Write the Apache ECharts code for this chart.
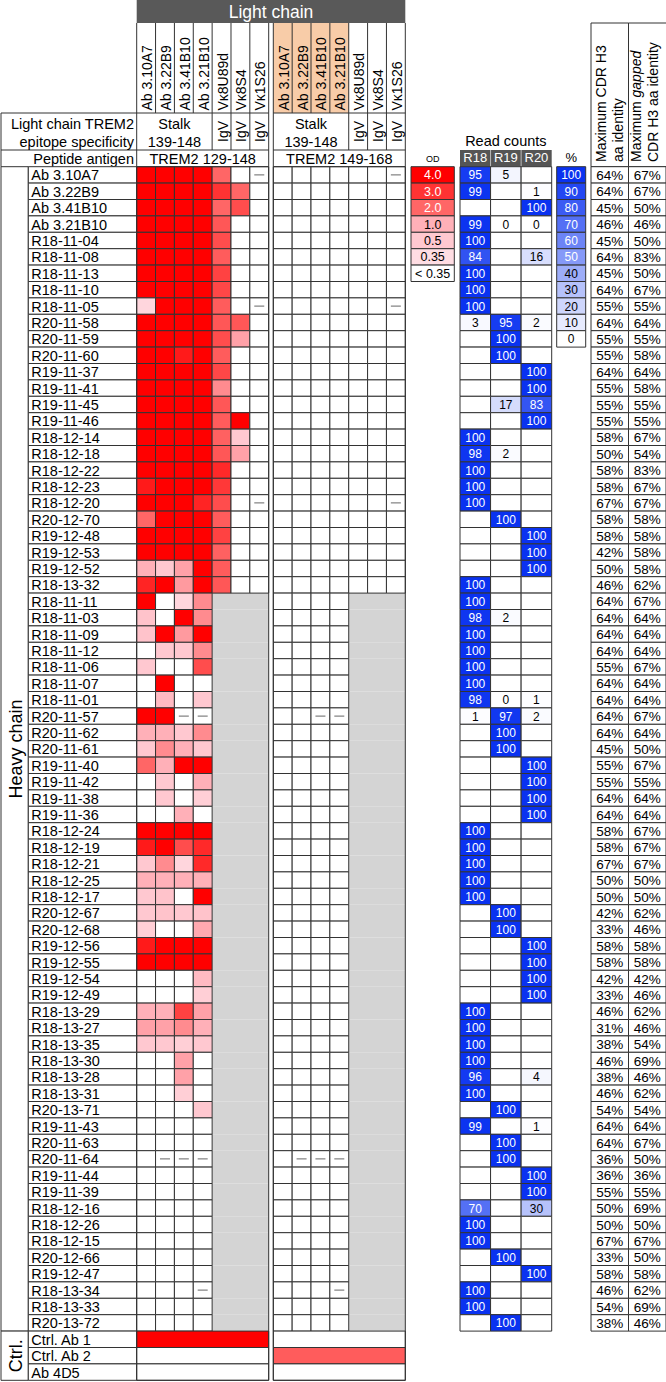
<!DOCTYPE html>
<html>
<head>
<meta charset="utf-8">
<script src="https://cdn.jsdelivr.net/npm/echarts@6/dist/echarts.min.js"></script>
<style>
  html, body { margin: 0; padding: 0; background: #fff; }
  #chart { width: 666px; height: 1382px; }
</style>
</head>
<body>
<div id="chart"></div>
<script>
// heavy chains (rows), then the three controls
const rowNames = [
  'Ab 3.10A7', 'Ab 3.22B9', 'Ab 3.41B10', 'Ab 3.21B10', 'R18-11-04', 'R18-11-08', 'R18-11-13', 'R18-11-10', 'R18-11-05', 'R20-11-58',
  'R20-11-59', 'R20-11-60', 'R19-11-37', 'R19-11-41', 'R19-11-45', 'R19-11-46', 'R18-12-14', 'R18-12-18', 'R18-12-22', 'R18-12-23',
  'R18-12-20', 'R20-12-70', 'R19-12-48', 'R19-12-53', 'R19-12-52', 'R18-13-32', 'R18-11-11', 'R18-11-03', 'R18-11-09', 'R18-11-12',
  'R18-11-06', 'R18-11-07', 'R18-11-01', 'R20-11-57', 'R20-11-62', 'R20-11-61', 'R19-11-40', 'R19-11-42', 'R19-11-38', 'R19-11-36',
  'R18-12-24', 'R18-12-19', 'R18-12-21', 'R18-12-25', 'R18-12-17', 'R20-12-67', 'R20-12-68', 'R19-12-56', 'R19-12-55', 'R19-12-54',
  'R19-12-49', 'R18-13-29', 'R18-13-27', 'R18-13-35', 'R18-13-30', 'R18-13-28', 'R18-13-31', 'R20-13-71', 'R19-11-43', 'R20-11-63',
  'R20-11-64', 'R19-11-44', 'R19-11-39', 'R18-12-16', 'R18-12-26', 'R18-12-15', 'R20-12-66', 'R19-12-47', 'R18-13-34', 'R18-13-33',
  'R20-13-72'
];
const ctrlNames = ['Ctrl. Ab 1', 'Ctrl. Ab 2', 'Ab 4D5'];
const lightChains = ['Ab 3.10A7', 'Ab 3.22B9', 'Ab 3.41B10', 'Ab 3.21B10', 'Vκ8U89d', 'Vκ8S4', 'Vκ1S26'];

// ELISA OD against TREM2 129-148, '-' = not tested, short rows = IgV light chains not tested
const odPep129 = [
  [4, 4, 4, 4, 2, 0, '-'], [4, 4, 4, 4, 3, 2, 0], [4, 4, 4, 4, 2, 2.5, 0], [4, 4, 4, 4, 2.3, 0, 0],
  [4, 4, 4, 4, 2.5, 0, 0], [4, 4, 4, 4, 2.2, 0, 0], [4, 4, 4, 4, 2.7, 0, 0], [4, 4, 4, 4, 2.6, 0, 0],
  [0.4, 4, 4, 4, 2.2, 0, '-'], [4, 4, 4, 4, 2.3, 2.3, 0], [4, 4, 4, 4, 2.5, 1.2, 0], [4, 4, 3.5, 4, 2.2, 0, 0],
  [4, 4, 4, 4, 2.6, 0, 0], [4, 4, 4, 4, 1.5, 0, 0], [4, 4, 4, 4, 2.3, 0, 0], [4, 4, 4, 4, 2.2, 4, 0],
  [4, 4, 4, 4, 2.1, 0.5, 0], [4, 4, 4, 4, 2.3, 1.2, 0], [4, 4, 4, 4, 3.2, 0, 0], [3.5, 4, 4, 4, 2.9, 0, 0],
  [4, 4, 4, 3.3, 2.5, 0, '-'], [2, 4, 4, 4, 2.2, 0, 0], [4, 4, 4, 4, 2.7, 0, 0], [4, 4, 4, 4, 2.1, 0, 0],
  [1, 0.5, 1.2, 4, 2.2, 0, 0], [3.3, 4, 1.3, 4, 2.3, 0, 0],
  [4, 0, 0.4, 1.5], [0.6, 0, 4, 1.5], [0.6, 4, 1.3, 4], [0, 0.5, 0.5, 1.5], [0.5, 0, 0, 2.5],
  [0, 4, 0, 0], [0, 0.8, 0, 0.5], [4, 4, '-', '-'], [1, 1, 0.5, 1.5], [0.5, 1.5, 1, 0.5],
  [2, 1, 4, 4], [0, 0.5, 0, 1], [0, 0.5, 0, 0.45], [0, 0, 1, 0], [4, 4, 4, 4],
  [3.5, 4, 2.5, 3.2], [0.5, 1.5, 0.4, 3.2], [1, 1, 1, 1], [0.5, 0.6, 0, 4], [0.5, 0.6, 0.5, 0.6],
  [0.45, 0, 0, 1.1], [3.5, 4, 4, 4], [4, 4, 4, 4], [0, 0, 0, 0.8], [0, 0, 0, 0.45],
  [1, 1, 2.7, 1.2], [1.2, 1.2, 1.5, 1], [0.5, 0.5, 0.45, 0.5], [0, 0, 1.2, 0], [0, 0, 1.2, 0],
  [0, 0, 0.45, 0], [0, 0, 0, 0.5], [0, 0, 0, 0], [0, 0, 0, 0], [0, '-', '-', '-'],
  [0, 0, 0, 0], [0, 0, 0, 0], [0, 0, 0, 0], [0, 0, 0, 0], [0, 0, 0, 0],
  [0, 0, 0, 0], [0, 0, 0, 0], [0, 0, 0, '-'], [0, 0, 0, 0], [0, 0, 0, 0]
];
// ELISA OD against TREM2 149-168
const odPep149 = [
  [0, 0, 0, 0, 0, 0, '-'], [0, 0, 0, 0, 0, 0, 0], [0, 0, 0, 0, 0, 0, 0], [0, 0, 0, 0, 0, 0, 0],
  [0, 0, 0, 0, 0, 0, 0], [0, 0, 0, 0, 0, 0, 0], [0, 0, 0, 0, 0, 0, 0], [0, 0, 0, 0, 0, 0, 0],
  [0, 0, 0, 0, 0, 0, '-'], [0, 0, 0, 0, 0, 0, 0], [0, 0, 0, 0, 0, 0, 0], [0, 0, 0, 0, 0, 0, 0],
  [0, 0, 0, 0, 0, 0, 0], [0, 0, 0, 0, 0, 0, 0], [0, 0, 0, 0, 0, 0, 0], [0, 0, 0, 0, 0, 0, 0],
  [0, 0, 0, 0, 0, 0, 0], [0, 0, 0, 0, 0, 0, 0], [0, 0, 0, 0, 0, 0, 0], [0, 0, 0, 0, 0, 0, 0],
  [0, 0, 0, 0, 0, 0, '-'], [0, 0, 0, 0, 0, 0, 0], [0, 0, 0, 0, 0, 0, 0], [0, 0, 0, 0, 0, 0, 0],
  [0, 0, 0, 0, 0, 0, 0], [0, 0, 0, 0, 0, 0, 0],
  [0, 0, 0, 0], [0, 0, 0, 0], [0, 0, 0, 0], [0, 0, 0, 0], [0, 0, 0, 0],
  [0, 0, 0, 0], [0, 0, 0, 0], [0, 0, '-', '-'], [0, 0, 0, 0], [0, 0, 0, 0],
  [0, 0, 0, 0], [0, 0, 0, 0], [0, 0, 0, 0], [0, 0, 0, 0], [0, 0, 0, 0],
  [0, 0, 0, 0], [0, 0, 0, 0], [0, 0, 0, 0], [0, 0, 0, 0], [0, 0, 0, 0],
  [0, 0, 0, 0], [0, 0, 0, 0], [0, 0, 0, 0], [0, 0, 0, 0], [0, 0, 0, 0],
  [0, 0, 0, 0], [0, 0, 0, 0], [0, 0, 0, 0], [0, 0, 0, 0], [0, 0, 0, 0],
  [0, 0, 0, 0], [0, 0, 0, 0], [0, 0, 0, 0], [0, 0, 0, 0], [0, '-', '-', '-'],
  [0, 0, 0, 0], [0, 0, 0, 0], [0, 0, 0, 0], [0, 0, 0, 0], [0, 0, 0, 0],
  [0, 0, 0, 0], [0, 0, 0, 0], [0, 0, 0, '-'], [0, 0, 0, 0], [0, 0, 0, 0]
];
// controls span the whole block
const ctrlPep129 = [4, 0, 0];
const ctrlPep149 = [0, 2.2, 0];

// read counts (%) per round
const readR18 = [95, 99, null, 99, 100, 84, 100, 100, 100, 3, null, null, null, null, null, null, 100, 98, 100, 100,
  100, null, null, null, null, 100, 100, 98, 100, 100, 100, 100, 98, 1, null, null, null, null, null, null,
  100, 100, 100, 100, 100, null, null, null, null, null, null, 100, 100, 100, 100, 96, 100, null, 99, null,
  null, null, null, 70, 100, 100, null, null, 100, 100, null];
const readR19 = [5, null, null, 0, null, null, null, null, null, 95, 100, 100, null, null, 17, null, null, 2, null, null,
  null, 100, null, null, null, null, null, 2, null, null, null, null, 0, 97, 100, 100, null, null, null, null,
  null, null, null, null, null, 100, 100, null, null, null, null, null, null, null, null, null, null, 100, null, 100,
  100, null, null, null, null, null, 100, null, null, null, 100];
const readR20 = [null, 1, 100, 0, null, 16, null, null, null, 2, null, null, 100, 100, 83, 100, null, null, null, null,
  null, null, 100, 100, 100, null, null, null, null, null, null, null, 1, 2, null, null, 100, 100, 100, 100,
  null, null, null, null, null, null, null, 100, 100, 100, 100, null, null, null, null, 4, null, null, 1, null,
  null, 100, 100, 30, null, null, null, 100, null, null, null];

// max CDR H3 aa identity (%) and max gapped identity (%)
const cdrH3Identity = [64, 64, 45, 46, 45, 64, 45, 64, 55, 64, 55, 55, 64, 55, 55, 55, 58, 50, 58, 58,
  67, 58, 58, 42, 50, 46, 64, 64, 64, 64, 55, 64, 64, 64, 64, 45, 55, 55, 64, 64,
  58, 58, 67, 50, 50, 42, 33, 58, 58, 42, 33, 46, 31, 38, 46, 38, 46, 54, 64, 64,
  36, 36, 55, 50, 50, 67, 33, 58, 46, 54, 38];
const gappedIdentity = [67, 67, 50, 46, 50, 83, 50, 67, 55, 64, 55, 58, 64, 58, 55, 55, 67, 54, 83, 67,
  67, 58, 58, 58, 58, 62, 67, 64, 64, 64, 67, 64, 64, 67, 64, 50, 67, 55, 64, 64,
  67, 67, 67, 50, 50, 62, 46, 58, 58, 42, 46, 62, 46, 54, 69, 46, 62, 54, 64, 67,
  50, 36, 55, 69, 50, 67, 50, 58, 62, 69, 46];

const odLegendValues = [4, 3, 2, 1, 0.5, 0.35, 0];
const odLegendLabels = ['4.0', '3.0', '2.0', '1.0', '0.5', '0.35', '< 0.35'];
const pctLegendValues = [100, 90, 80, 70, 60, 50, 40, 30, 20, 10, 0];

const allRows = rowNames.concat(ctrlNames);
const FONT = '"Liberation Sans", Arial, sans-serif';
const LINE = '#333';
const ROW_TOP = 166.7, ROW_H = 16.4;
const COL_W = 132 / 7;

// OD colour scale
const odStops = [0.35, 0.5, 1, 2, 3, 4];
const odColors = ['#ffdde3', '#ffc8d0', '#ffb0b8', '#ff6666', '#ff3333', '#ff0000'];
function odColor(v) {
  if (v < 0.35) return '#ffffff';
  if (v >= 4) return odColors[5];
  for (let i = 0; i < 5; i++) {
    if (v <= odStops[i + 1]) {
      return echarts.color.lerp((v - odStops[i]) / (odStops[i + 1] - odStops[i]), [odColors[i], odColors[i + 1]]);
    }
  }
}
function blueColor(v) {
  if (v == null) return '#ffffff';
  return echarts.color.lerp(v / 100, ['#ffffff', '#0a32f0']);
}

function bandRect(api, col, row, colSpan, rowSpan) {
  const p = api.coord([col, row]);
  const s = api.size([1, 1]);
  return { x: p[0] - s[0] / 2, y: p[1] - s[1] / 2, width: s[0] * colSpan, height: s[1] * rowSpan };
}
function txt(x, y, str, size, color, align, extra) {
  return Object.assign({
    type: 'text', x: x, y: y,
    style: {
      text: str, fill: color || '#000', font: size + 'px ' + FONT,
      align: align || 'center', verticalAlign: 'middle',
      textAlign: align || 'center', textVerticalAlign: 'middle'
    }
  }, extra || {});
}

// cells of one peptide block
function blockCells(rows, ctrl) {
  const out = [];
  rows.forEach((r, i) => {
    if (r.length === 4) out.push({ col: 4, row: i, span: 3, v: 'nt' });
  });
  rows.forEach((r, i) => {
    r.forEach((v, j) => out.push({ col: j, row: i, span: 1, v: v }));
  });
  ctrl.forEach((v, k) => out.push({ col: 0, row: rows.length + k, span: 7, v: v }));
  out.push({ col: 0, row: 0, span: 7, v: 'frame' });
  return out;
}
function blockRender(cells) {
  return function (params, api) {
    const c = cells[params.dataIndex];
    if (c.v === 'frame') {
      const r = bandRect(api, 0, 0, 7, allRows.length);
      return { type: 'rect', shape: r, style: { fill: 'none', stroke: LINE, lineWidth: 1 } };
    }
    const r = bandRect(api, c.col, c.row, c.span, 1);
    if (c.v === 'nt') return { type: 'rect', shape: r, style: { fill: '#d4d4d4' } };
    const children = [{
      type: 'rect', shape: r,
      style: { fill: c.v === '-' ? '#ffffff' : odColor(c.v), stroke: LINE, lineWidth: 1 }
    }];
    if (c.v === '-') {
      const cx = r.x + r.width / 2, cy = r.y + r.height / 2;
      children.push({ type: 'line', shape: { x1: cx - 5, y1: cy, x2: cx + 5, y2: cy }, style: { stroke: '#666', lineWidth: 1 } });
    }
    return { type: 'group', children: children };
  };
}

const cells129 = blockCells(odPep129, ctrlPep129);
const cells149 = blockCells(odPep149, ctrlPep149);

const heavyCells = [{ row: 0, span: rowNames.length, text: 'Heavy chain' }, { row: rowNames.length, span: ctrlNames.length, text: 'Ctrl.' }];

const readCells = [];
[readR18, readR19, readR20].forEach((arr, j) => arr.forEach((v, i) => readCells.push({ col: j, row: i, v: v })));
const identCells = [];
[cdrH3Identity, gappedIdentity].forEach((arr, j) => arr.forEach((v, i) => identCells.push({ col: j, row: i, v: v })));

// grid layout: [left, width]
const layout = [
  [1, 27.3],        // heavy / ctrl label
  [28.3, 108.4],    // row names
  [136.7, 132],     // TREM2 129-148
  [273.3, 132],     // TREM2 149-168
  [411, 43.3],      // OD legend
  [460, 91.7],      // read counts
  [556.7, 29],      // % legend
  [591, 75]         // identity
];
const xCats = [[''], ['name'], lightChains, lightChains, ['OD'], ['R18', 'R19', 'R20'], ['%'], ['CDR H3', 'gapped CDR H3']];

const grids = layout.map(l => ({ left: l[0], width: l[1], top: ROW_TOP, height: ROW_H * allRows.length }));
const yAxes = layout.map((l, i) => ({ gridIndex: i, type: 'category', data: allRows, inverse: true, show: false }));
const xAxes = xCats.map((cats, i) => ({ gridIndex: i, type: 'category', data: cats, show: false }));
Object.assign(xAxes[5], {
  show: true, position: 'top', z: 10,
  axisLine: { show: false }, axisTick: { show: false }, splitLine: { show: false },
  axisLabel: { interval: 0, margin: 3, fontSize: 13, fontFamily: FONT, color: '#fff' }
});

const series = [
  {
    type: 'custom', xAxisIndex: 0, yAxisIndex: 0,
    data: heavyCells.map(c => [0, c.row]),
    renderItem: function (params, api) {
      const c = heavyCells[params.dataIndex];
      const r = bandRect(api, 0, c.row, 1, c.span);
      return {
        type: 'group', children: [
          { type: 'rect', shape: r, style: { fill: '#fff', stroke: LINE, lineWidth: 1 } },
          txt(r.x + r.width / 2 + 1, r.y + r.height / 2, c.text, 18, '#000', 'center', { rotation: Math.PI / 2 })
        ]
      };
    }
  },
  {
    type: 'custom', xAxisIndex: 1, yAxisIndex: 1,
    data: allRows.map((n, i) => [0, i]),
    renderItem: function (params, api) {
      const r = bandRect(api, 0, params.dataIndex, 1, 1);
      return {
        type: 'group', children: [
          { type: 'rect', shape: r, style: { fill: '#fff', stroke: LINE, lineWidth: 1 } },
          txt(r.x + 3, r.y + r.height / 2 + 0.5, allRows[params.dataIndex], 14.5, '#000', 'left')
        ]
      };
    }
  },
  { type: 'custom', xAxisIndex: 2, yAxisIndex: 2, data: cells129.map(c => [c.col, c.row]), renderItem: blockRender(cells129) },
  { type: 'custom', xAxisIndex: 3, yAxisIndex: 3, data: cells149.map(c => [c.col, c.row]), renderItem: blockRender(cells149) },
  {
    type: 'custom', xAxisIndex: 4, yAxisIndex: 4,
    data: odLegendValues.map((v, i) => [0, i]),
    renderItem: function (params, api) {
      const v = odLegendValues[params.dataIndex];
      const r = bandRect(api, 0, params.dataIndex, 1, 1);
      return {
        type: 'group', children: [
          { type: 'rect', shape: r, style: { fill: odColor(v), stroke: LINE, lineWidth: 1 } },
          txt(r.x + r.width / 2, r.y + r.height / 2 + 0.5, odLegendLabels[params.dataIndex], 12.5, v >= 2 ? '#fff' : '#000')
        ]
      };
    }
  },
  {
    type: 'custom', xAxisIndex: 5, yAxisIndex: 5,
    data: readCells.map(c => [c.col, c.row]),
    renderItem: function (params, api) {
      const c = readCells[params.dataIndex];
      const r = bandRect(api, c.col, c.row, 1, 1);
      const children = [{ type: 'rect', shape: r, style: { fill: blueColor(c.v), stroke: LINE, lineWidth: 1 } }];
      if (c.v != null) children.push(txt(r.x + r.width / 2, r.y + r.height / 2 + 0.5, String(c.v), 12, c.v >= 50 ? '#fff' : '#000'));
      return { type: 'group', children: children };
    }
  },
  {
    type: 'custom', xAxisIndex: 6, yAxisIndex: 6,
    data: pctLegendValues.map((v, i) => [0, i]),
    renderItem: function (params, api) {
      const v = pctLegendValues[params.dataIndex];
      const r = bandRect(api, 0, params.dataIndex, 1, 1);
      return {
        type: 'group', children: [
          { type: 'rect', shape: r, style: { fill: blueColor(v), stroke: LINE, lineWidth: 1 } },
          txt(r.x + r.width / 2, r.y + r.height / 2 + 0.5, String(v), 12, v >= 50 ? '#fff' : '#000')
        ]
      };
    }
  },
  {
    type: 'custom', xAxisIndex: 7, yAxisIndex: 7,
    data: identCells.map(c => [c.col, c.row]),
    renderItem: function (params, api) {
      const c = identCells[params.dataIndex];
      const r = bandRect(api, c.col, c.row, 1, 1);
      return {
        type: 'group', children: [
          { type: 'rect', shape: r, style: { fill: '#fff', stroke: LINE, lineWidth: 1 } },
          txt(r.x + r.width / 2, r.y + r.height / 2 + 0.5, c.v + '%', 13.5, '#000')
        ]
      };
    }
  }
];
series.forEach(s => { s.silent = true; s.animation = false; });

// ---- header (static table furniture) ----
const G = [];
function hline(x1, x2, y) { G.push({ type: 'line', shape: { x1: x1, y1: y, x2: x2, y2: y }, style: { stroke: LINE, lineWidth: 1 } }); }
function vline(x, y1, y2, color) { G.push({ type: 'line', shape: { x1: x, y1: y1, x2: x, y2: y2 }, style: { stroke: color || LINE, lineWidth: 1 } }); }
const H_TOP = 23, H_NAMES = 113, H_EPI = 150;
const blockX = [layout[2][0], layout[3][0]];
const blockW = 132;
const UP = { rotation: Math.PI / 2 };

G.push({ type: 'rect', z: -5, shape: { x: blockX[0], y: 0, width: blockX[1] + blockW - blockX[0], height: H_TOP }, style: { fill: '#595959' } });
G.push(txt(blockX[0] + (blockX[1] + blockW - blockX[0]) / 2, 12, 'Light chain', 17.5, '#fff'));
G.push({ type: 'rect', z: -5, shape: { x: blockX[1], y: H_TOP, width: COL_W * 4, height: H_NAMES - H_TOP }, style: { fill: '#f8cca8' } });

blockX.forEach((x0, b) => {
  for (let k = 0; k <= 7; k++) {
    const x = x0 + k * COL_W;
    vline(x, H_TOP, H_NAMES);
    if (k === 0 || k >= 4) vline(x, H_NAMES, H_EPI);
    if (k === 0 || k === 7) vline(x, H_EPI, ROW_TOP);
  }
  // light chain names, reading upward
  lightChains.forEach((name, k) => G.push(txt(x0 + (k + 0.5) * COL_W + 1, 110.5, name, 14, '#000', 'left', UP)));
  hline(b === 0 ? 1 : x0, x0 + blockW, H_NAMES);
  hline(b === 0 ? 1 : x0, x0 + blockW, H_EPI);
  G.push(txt(x0 + 2 * COL_W, 124, 'Stalk', 14.5));
  G.push(txt(x0 + 2 * COL_W, 142, '139-148', 14.5));
  for (let k = 4; k < 7; k++) G.push(txt(x0 + (k + 0.5) * COL_W + 1, 131.5, 'IgV', 14, '#000', 'center', UP));
  G.push(txt(x0 + blockW / 2, 158.5, b === 0 ? 'TREM2 129-148' : 'TREM2 149-168', 14.5));
});
vline(1, H_NAMES, ROW_TOP);
G.push(txt(134, 124, 'Light chain TREM2', 14.5, '#000', 'right'));
G.push(txt(134, 142, 'epitope specificity', 14.5, '#000', 'right'));
G.push(txt(134, 158.5, 'Peptide antigen', 14.5, '#000', 'right'));

// OD / read counts / % labels
G.push(txt(layout[4][0] + layout[4][1] / 2, 158.5, 'OD', 9));
G.push(txt(layout[5][0] + layout[5][1] / 2, 141, 'Read counts', 14.5));
G.push({ type: 'rect', z: -5, shape: { x: layout[5][0], y: H_EPI, width: layout[5][1], height: ROW_TOP - H_EPI }, style: { fill: '#555' } });
vline(layout[5][0] + layout[5][1] / 3, H_EPI, ROW_TOP, '#bbb');
vline(layout[5][0] + 2 * layout[5][1] / 3, H_EPI, ROW_TOP, '#bbb');
G.push(txt(layout[6][0] + layout[6][1] / 2, 157, '%', 13));

// identity headers
const idX = layout[7][0], idW = layout[7][1] / 2;
G.push({ type: 'rect', shape: { x: idX, y: H_TOP, width: idW, height: ROW_TOP - H_TOP }, style: { fill: 'none', stroke: LINE, lineWidth: 1 } });
G.push({ type: 'rect', shape: { x: idX + idW, y: H_TOP, width: idW + 3, height: ROW_TOP - H_TOP }, style: { fill: 'none', stroke: LINE, lineWidth: 1 } });
G.push(txt(idX + 10, 162, 'Maximum CDR H3', 14, '#000', 'left', UP));
G.push(txt(idX + 27, 162, 'aa identity', 14, '#000', 'left', UP));
G.push({
  type: 'text', x: idX + idW + 7, y: 162, rotation: Math.PI / 2,
  style: {
    text: '{n|Maximum }{i|gapped}', fill: '#000', font: '14px ' + FONT,
    align: 'left', verticalAlign: 'middle', textAlign: 'left', textVerticalAlign: 'middle',
    rich: { n: { fontSize: 14, fontFamily: FONT }, i: { fontSize: 14, fontFamily: FONT, fontStyle: 'italic' } }
  }
});
G.push(txt(idX + idW + 24, 162, 'CDR H3 aa identity', 14, '#000', 'left', UP));

const chart = echarts.init(document.getElementById('chart'), null, { renderer: 'svg' });
chart.setOption({
  animation: false,
  grid: grids,
  xAxis: xAxes,
  yAxis: yAxes,
  series: series,
  graphic: { elements: G }
});
</script>
</body>
</html>
